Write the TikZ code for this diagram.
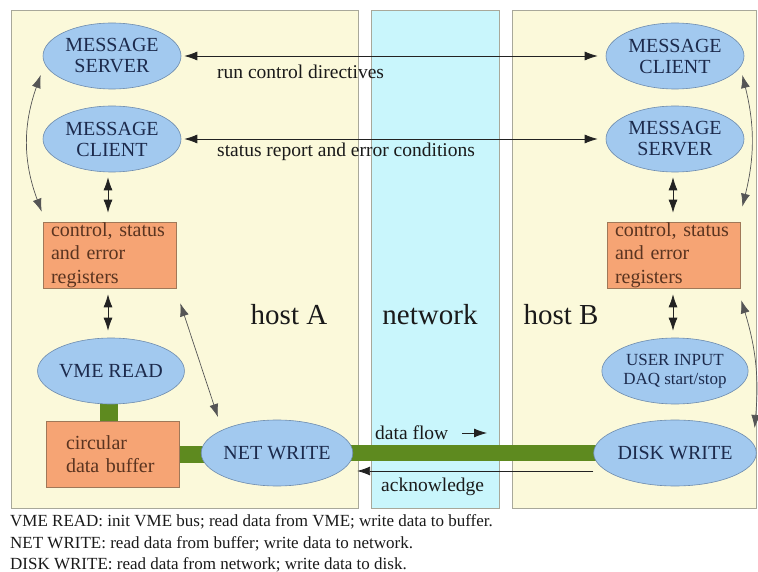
\documentclass[tikz,border=0pt]{standalone}
\usepackage{fontspec}
\setmainfont{Liberation Serif}
\usetikzlibrary{shapes.geometric,arrows.meta,calc}
\pgfdeclarelayer{bg}
\pgfdeclarelayer{mid}
\pgfsetlayers{bg,mid,main}
\definecolor{panelY}{HTML}{FBF9DA}
\definecolor{panelC}{HTML}{C9F6FC}
\definecolor{panelB}{HTML}{A8A89A}
\definecolor{ellF}{HTML}{A2C9EF}
\definecolor{ellB}{HTML}{6E8CAE}
\definecolor{ellT}{HTML}{1C2A4C}
\definecolor{boxF}{HTML}{F6A474}
\definecolor{boxB}{HTML}{A07858}
\definecolor{boxT}{HTML}{5A3420}
\definecolor{barG}{HTML}{5E8A1F}
\definecolor{arrC}{HTML}{222222}
\definecolor{curC}{HTML}{555555}
\definecolor{txtC}{HTML}{1A1A1A}
\begin{document}
\begin{tikzpicture}[x=1pt,y=-1pt,
  panel/.style={rectangle, draw=panelB, line width=0.8pt, inner sep=0pt, anchor=north west},
  proc/.style={ellipse, draw=ellB, line width=0.6pt, fill=ellF, text=ellT, minimum width=138pt, minimum height=66pt, inner sep=0pt, align=center, font=\fontsize{20}{21}\selectfont},
  regbox/.style={rectangle, draw=boxB, line width=0.6pt, fill=boxF, text=boxT, minimum width=133pt, minimum height=66pt, inner ysep=0pt, align=left, font=\fontsize{20}{23.5}\selectfont},
  lbl/.style={font=\fontsize{19.5}{22}\selectfont, text=txtC, inner sep=0pt, anchor=west},
  big/.style={font=\fontsize{29}{30}\selectfont, text=txtC, inner sep=0pt},
  captxt/.style={font=\fontsize{17}{18}\selectfont, text=txtC, inner sep=0pt, anchor=west},
  mytip/.tip={Latex[length=13pt,width=9pt]},
  arr/.style={draw=arrC, line width=0.8pt, mytip-mytip},
  arrone/.style={draw=arrC, line width=0.8pt, -mytip},
  curv/.style={draw=curC, line width=0.7pt, mytip-mytip},
  databar/.style={draw=barG, line cap=butt}
]
\useasboundingbox (0,0) rectangle (758,572);

% background and panels
\begin{pgfonlayer}{bg}
\fill[white] (0,0) rectangle (758,572);
\node[panel, fill=panelY, minimum width=347pt, minimum height=498pt] (hostA) at (11,10) {};
\node[panel, fill=panelC, minimum width=128pt, minimum height=498pt] (net) at (371,10) {};
\node[panel, fill=panelY, minimum width=244pt, minimum height=498pt] (hostB) at (512,10) {};
\end{pgfonlayer}

% host A
\node[proc] (msA) at (112,56) {MESSAGE\\SERVER};
\node[proc] (mcA) at (112,139) {MESSAGE\\CLIENT};
\node[regbox, text width=117pt, inner xsep=8pt] (regA) at (109.5,255) {control, status\\and error\\registers};
\node[proc, minimum width=135pt] (vme) at (111,371) {VME READ};
\node[regbox, text width=93pt, inner xsep=20pt] (buf) at (112.5,454) {circular\\data buffer};
\node[proc, minimum width=132pt] (netW) at (277,453) {NET WRITE};

% host B
\node[proc] (mcB) at (675,56) {MESSAGE\\CLIENT};
\node[proc] (msB) at (675,139) {MESSAGE\\SERVER};
\node[regbox, text width=117pt, inner xsep=8pt] (regB) at (673.5,255) {control, status\\and error\\registers};
\node[proc, minimum width=136pt, font=\fontsize{17}{19}\selectfont] (ui) at (675,371) {USER INPUT\\DAQ start/stop};
\node[proc, minimum width=136pt] (dwB) at (675,453) {DISK WRITE};

% labels
\node[lbl] (lrun) at (217,72) {run control directives};
\node[lbl] (lstat) at (217,152) {status report and error conditions};
\node[big] (lhA) at (289,315) {host A};
\node[big] (lnet) at (430,315) {network};
\node[big] (lhB) at (561,315) {host B};
\node[lbl] (ldf) at (375,433) {data flow};
\node[lbl] (lack) at (381,487) {acknowledge};
\coordinate (dfs) at (462,433);
\coordinate (dfe) at (487,433);

% caption
\node[captxt] (c1) at (10,522) {VME READ: init VME bus; read data from VME; write data to buffer.};
\node[captxt] (c2) at (10,544) {NET WRITE: read data from buffer; write data to network.};
\node[captxt] (c3) at (10,565) {DISK WRITE: read data from network; write data to disk.};

% data bars
\begin{pgfonlayer}{mid}
\draw[databar, line width=18pt] ([xshift=-2pt]vme.center) -- ([xshift=-2pt]vme.center |- buf.center);
\draw[databar, line width=17pt] (buf.center) -- (buf.center -| netW.center);
\draw[databar, line width=16pt] (netW.center) -- (dwB.center);
\end{pgfonlayer}

% control arrows
\draw[arr] ([xshift=3pt]msA.east) -- ([xshift=-8pt]mcB.west);
\draw[arr] ([xshift=3pt]mcA.east) -- ([xshift=-8pt]msB.west);
\draw[arr] ([xshift=-4pt,yshift=-5pt]mcA.south) -- ([xshift=-1.5pt,yshift=9pt]regA.north);
\draw[arr] ([xshift=-1.5pt,yshift=-6pt]regA.south) -- ([xshift=-3pt,yshift=7pt]vme.north);
\draw[arr] ([xshift=-2pt,yshift=-5pt]msB.south) -- ([xshift=-0.5pt,yshift=9pt]regB.north);
\draw[arr] ([xshift=-0.5pt,yshift=-6pt]regB.south) -- ([xshift=-2pt,yshift=7pt]ui.north);
\draw[curv] ([xshift=-2pt,yshift=-19pt]msA.west) to[bend right=20] ([xshift=-1pt,yshift=10pt]regA.north west);
\draw[curv] ([xshift=4pt,yshift=-15pt]regA.south east) -- ([xshift=17pt,yshift=36pt]netW.west);
\draw[curv] ([xshift=-2pt,yshift=-19pt]mcB.east) to[bend left=14] ([xshift=2pt,yshift=15pt]regB.north east);
\draw[curv] ([xshift=1pt,yshift=-12pt]regB.south east) to[bend left=11] ([xshift=-2pt,yshift=25pt]dwB.east);
\draw[arrone] ([yshift=-18pt]dwB.west) -- ([xshift=4pt,yshift=-18pt]netW.east);
\draw[arrone] (dfs) -- (dfe);
\end{tikzpicture}
\end{document}
